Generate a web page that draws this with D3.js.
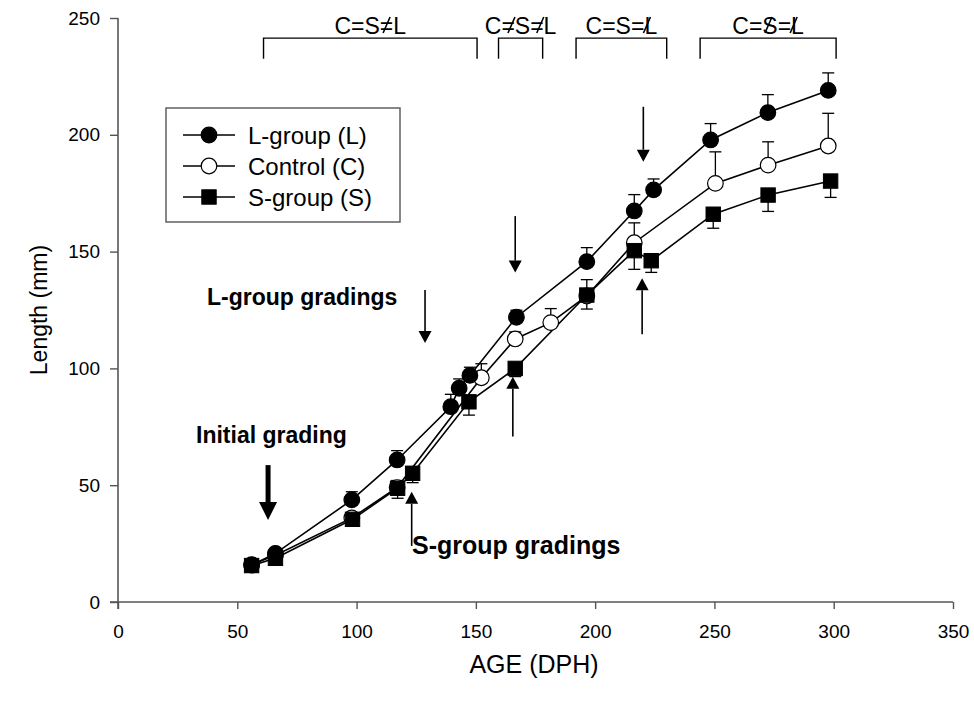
<!DOCTYPE html>
<html><head><meta charset="utf-8">
<script src="https://cdn.jsdelivr.net/npm/d3@7"></script>
<style>body{margin:0;background:#fff}svg{display:block}text{font-family:"Liberation Sans",Arial,sans-serif}</style>
</head><body><svg id="c" width="974" height="701"></svg>
<script>
// ---- data ----
const lAge = [56, 66, 98, 117, 139.5, 143, 147.5, 167, 196.5, 216.4, 224.5, 248.4, 272.4, 297.7];
const lLen = [15.8, 20.8, 43.7, 60.8, 83.6, 91.5, 97, 121.9, 145.7, 167.4, 176.4, 197.8, 209.5, 219];
const lErr = [1, 1.5, 3.5, 4, 5.3, 4, 3.5, 3, 6, 7, 4.7, 7, 7.7, 7.5];

const cAge = [56, 66, 98, 117, 152.3, 166.5, 181.4, 196.5, 216.4, 250.4, 272.5, 297.7];
const cLen = [16, 20, 36, 49, 96, 112.6, 119.6, 131, 153.8, 179.2, 187, 195.2];
const cErr = [1, 1, 2, 3, 6, 3, 6, 7, 8.5, 13.5, 10, 14];

const sAge = [56, 66, 98.3, 117.2, 123.5, 147.1, 166.5, 196.5, 216.4, 223.5, 249.5, 272.5, 298.7];
const sLen = [15.6, 18.7, 35.4, 48.7, 55.1, 85.7, 100, 131.4, 150.4, 146.1, 166, 174.2, 180.2];
const sErr = [1, 1, 2.4, 4.3, 4, 5.7, 3.5, 6, 8, 5, 6, 7, 7];

const xTicks = [0, 50, 100, 150, 200, 250, 300, 350];
const yTicks = [0, 50, 100, 150, 200, 250];
const seriesNames = ["L-group (L)", "Control (C)", "S-group (S)"];

// comparison brackets: start age, end age, label, slash overlays (char index, offset in char widths)
const bracketFrom = [61, 159.5, 192, 244];
const bracketTo = [150.5, 178, 230, 301];
const bracketText = ["C=S=L", "C=S=L", "C=S=L", "C=S=L"];
const bracketSlashes = [[[3, 0.5]], [[1, 0.75], [3, 0.75]], [[4, 0.2]], [[2, 0.4], [4, 0.2]]];

// grading arrows: age, from length, to length, thick
const arrows = [
  [62.9, 58.6, 35.1, true],
  [128.7, 133.6, 110.9, false],
  [166.5, 165.2, 141, false],
  [220.2, 212, 188.5, false],
  [123.1, 24, 47.2, false],
  [165.5, 70.8, 96.4, false],
  [219.7, 114.6, 138.6, false]
];

// ---- chart ----
const svg = d3.select("#c");
const x = d3.scaleLinear().domain([0, 350]).range([118, 953]);
const y = d3.scaleLinear().domain([0, 250]).range([602, 18]);
const axisCol = "#555";

const gx = svg.append("g").attr("transform", `translate(0,${y(0)})`)
  .call(d3.axisBottom(x).tickValues(xTicks).tickSize(7).tickPadding(16));
const gy = svg.append("g").attr("transform", `translate(${x(0)},0)`)
  .call(d3.axisLeft(y).tickValues(yTicks).tickSize(8).tickPadding(10));
[gx, gy].forEach(g => {
  g.select(".domain").attr("stroke", axisCol).attr("stroke-width", 1.6);
  g.selectAll(".tick line").attr("stroke", axisCol).attr("stroke-width", 1.4);
  g.selectAll(".tick text").attr("font-size", 19).attr("fill", "#000")
    .attr("font-family", "Liberation Sans, Arial, sans-serif");
});
gx.select(".domain").attr("d", `M${x(0)-8},0H${x(350)}`);
gy.select(".domain").attr("d", `M0,${y(250)}V${y(0)+7}`);

svg.append("text").attr("x", 534).attr("y", 673).attr("text-anchor", "middle")
  .attr("font-size", 25).text("AGE (DPH)");
svg.append("text").attr("transform", "translate(47,310) rotate(-90)").attr("text-anchor", "middle")
  .attr("font-size", 23).text("Length (mm)");

const series = [
  {name: seriesNames[1], age: cAge, len: cLen, err: cErr, dir: 1, shape: "circle", fill: "#fff"},
  {name: seriesNames[2], age: sAge, len: sLen, err: sErr, dir: -1, shape: "square", fill: "#000"},
  {name: seriesNames[0], age: lAge, len: lLen, err: lErr, dir: 1, shape: "circle", fill: "#000"}
];
const line = d3.line().x(d => x(d[0])).y(d => y(d[1]));
series.forEach(s => {
  const pts = s.age.map((a, i) => [a, s.len[i]]);
  svg.append("path").attr("d", line(pts)).attr("fill", "none").attr("stroke", "#000").attr("stroke-width", 1.6);
});
series.forEach(s => {
  s.age.forEach((a, i) => {
    const v2 = s.len[i] + s.dir * s.err[i];
    svg.append("line").attr("x1", x(a)).attr("x2", x(a)).attr("y1", y(s.len[i])).attr("y2", y(v2))
      .attr("stroke", "#000").attr("stroke-width", 1.3);
    svg.append("line").attr("x1", x(a) - 6).attr("x2", x(a) + 6).attr("y1", y(v2)).attr("y2", y(v2))
      .attr("stroke", "#000").attr("stroke-width", 1.3);
  });
});
function marker(g, shape, fill, cx, cy) {
  if (shape === "circle") g.append("circle").attr("cx", cx).attr("cy", cy).attr("r", 7.8)
    .attr("fill", fill).attr("stroke", "#000").attr("stroke-width", 1.2);
  else g.append("rect").attr("x", cx - 7.2).attr("y", cy - 7.2).attr("width", 14.4).attr("height", 14.4)
    .attr("fill", fill).attr("stroke", "#000").attr("stroke-width", 1);
}
series.forEach(s => s.age.forEach((a, i) => marker(svg, s.shape, s.fill, x(a), y(s.len[i]))));

// legend
const lg = svg.append("g");
lg.append("rect").attr("x", 166).attr("y", 108).attr("width", 234).attr("height", 114)
  .attr("fill", "#fff").attr("stroke", "#555").attr("stroke-width", 1.4);
const legOrder = [series[2], series[0], series[1]];
legOrder.forEach((s, i) => {
  const ly = 135 + i * 31;
  lg.append("line").attr("x1", 183).attr("x2", 235).attr("y1", ly).attr("y2", ly).attr("stroke", "#000").attr("stroke-width", 1.6);
  marker(lg, s.shape, s.fill, 209, ly);
  lg.append("text").attr("x", 248).attr("y", ly).attr("dy", "0.36em").attr("font-size", 24).text(s.name);
});

// brackets
const yb0 = 241.4, yb1 = 232.6;
bracketFrom.forEach((b0, k) => {
  const b1 = bracketTo[k];
  svg.append("path").attr("d", `M${x(b0)},${y(yb1)}V${y(yb0)}H${x(b1)}V${y(yb1)}`)
    .attr("fill", "none").attr("stroke", "#000").attr("stroke-width", 1.4);
  const t = svg.append("text").attr("x", (x(b0) + x(b1)) / 2).attr("y", 34)
    .attr("text-anchor", "middle").attr("font-size", 23).text(bracketText[k]);
  const node = t.node();
  bracketSlashes[k].forEach(([ci, off]) => {
    const ext = node.getExtentOfChar(ci);
    const cx = ext.x + ext.width * off;
    svg.append("line").attr("x1", cx - 3.5).attr("y1", 33).attr("x2", cx + 3.5).attr("y2", 17)
      .attr("stroke", "#000").attr("stroke-width", 1.6);
  });
});

// arrows
arrows.forEach(a => {
  const ax = x(a[0]), y1 = y(a[1]), y2 = y(a[2]);
  const dirn = y2 > y1 ? 1 : -1;
  const hl = a[3] ? 18 : 12, hw = a[3] ? 9 : 6.5;
  svg.append("line").attr("x1", ax).attr("x2", ax).attr("y1", y1).attr("y2", y2 - dirn * hl)
    .attr("stroke", "#000").attr("stroke-width", a[3] ? 5 : 1.6);
  svg.append("path").attr("d", `M${ax - hw},${y2 - dirn * hl}L${ax + hw},${y2 - dirn * hl}L${ax},${y2}Z`).attr("fill", "#000");
});

// annotation text
svg.append("text").attr("x", 207).attr("y", 305).attr("font-size", 23).attr("font-weight", "bold").text("L-group gradings");
svg.append("text").attr("x", 196).attr("y", 443).attr("font-size", 23).attr("font-weight", "bold").text("Initial grading");
svg.append("text").attr("x", 412).attr("y", 554).attr("font-size", 25).attr("font-weight", "bold").text("S-group gradings");
</script></body></html>
